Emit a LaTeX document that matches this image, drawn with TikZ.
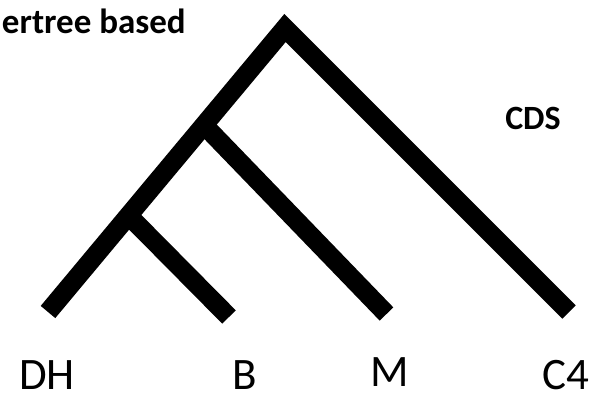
\documentclass[tikz,border=0pt]{standalone}
\usepackage{fontspec}
\setmainfont{Carlito}
\begin{document}
\begin{tikzpicture}[x=1pt,y=1pt,
  branch/.style={line width=19pt, line join=miter, line cap=butt, black},
  leaf/.style={anchor=base, font=\fontsize{45}{45}\selectfont, inner sep=0pt},
  boldlbl/.style={font=\bfseries\fontsize{35}{35}\selectfont, inner sep=0pt}]
\useasboundingbox (0,0) rectangle (600,394);
\clip (0,0) rectangle (600,394);
\coordinate (root) at (285,366);
\coordinate (dh) at (48,82);
\coordinate (b) at (229,77);
\coordinate (m) at (386.5,80);
\coordinate (c4) at (569,82);
\coordinate (n1) at (204,269);
\coordinate (n2) at (129,178);
\draw[branch] (n1) -- (m);
\draw[branch] (n2) -- (b);
\draw[branch] (dh) -- (root) -- (c4);
\node[leaf] (tdh) at (47,5) {DH};
\node[leaf] (tb) at (245,5) {B};
\node[leaf] (tm) at (390,8) {M};
\node[leaf] (tc) at (566,5) {C4};
\node[boldlbl, anchor=base east] (tsup) at (186,360.5) {ertree based};
\node[boldlbl, anchor=base, font=\bfseries\fontsize{34}{34}\selectfont] (tcds) at (533,264) {CDS};
\end{tikzpicture}
\end{document}
